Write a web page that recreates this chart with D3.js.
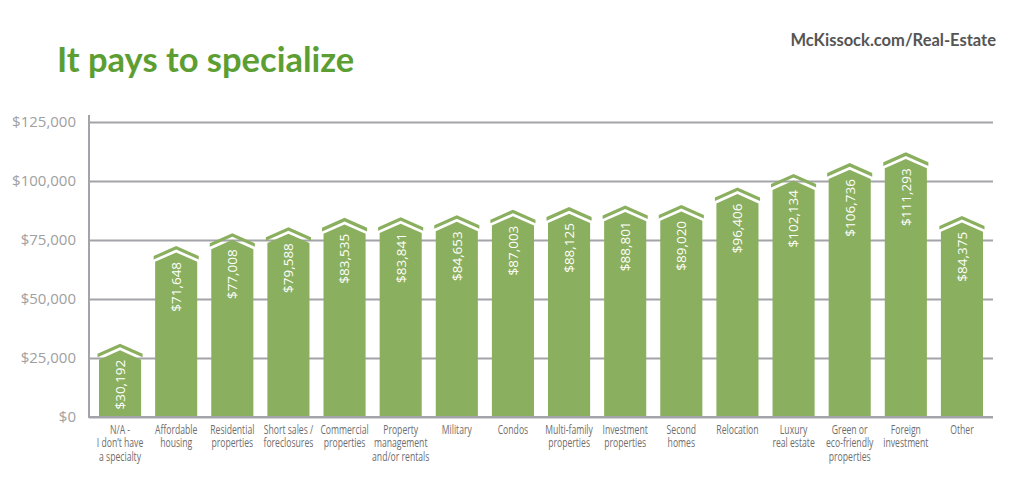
<!DOCTYPE html>
<html>
<head>
<meta charset="utf-8">
<script src="https://cdn.jsdelivr.net/npm/d3@7"></script>
<style>
  body { margin: 0; background: #fff; }
  svg { display: block; }
</style>
</head>
<body>
<div class="chart"></div>
<script>
// data
let categories = ["N/A -\nI don\u2019t have\na specialty", "Affordable\nhousing", "Residential\nproperties",
  "Short sales /\nforeclosures", "Commercial\nproperties", "Property\nmanagement\nand/or rentals",
  "Military", "Condos", "Multi-family\nproperties", "Investment\nproperties", "Second\nhomes",
  "Relocation", "Luxury\nreal estate", "Green or\neco-friendly\nproperties", "Foreign\ninvestment", "Other"]
let salaries = [30192, 71648, 77008, 79588, 83535, 83841, 84653, 87003, 88125, 88801, 89020,
  96406, 102134, 106736, 111293, 84375]
let yTicks = [0, 25000, 50000, 75000, 100000, 125000]

let w = 1024, h = 493
let plotLeft = 89, plotRight = 993, base = 417, plotTop = 122
let green = '#8aaf5e'

let svg = d3.select('.chart').append('svg').attr('width', w).attr('height', h)

svg.append('text').text('It pays to specialize')
  .attr('x', 57).attr('y', 72)
  .attr('font-family', 'Lato, sans-serif').attr('font-weight', 'bold').attr('font-size', 34.5)
  .attr('fill', '#5d9e33')

svg.append('text').text('McKissock.com/Real-Estate')
  .attr('x', 996).attr('y', 46).attr('text-anchor', 'end')
  .attr('font-family', 'Lato, sans-serif').attr('font-weight', 'bold').attr('font-size', 16.5)
  .attr('fill', '#555')

let yScale = d3.scaleLinear().domain([0, 125000]).range([base, plotTop])
let xScale = d3.scaleBand().domain(d3.range(categories.length)).range([99, 983]).paddingInner(0.25).paddingOuter(0)

let money = d3.format(',')
let yAxis = d3.axisLeft(yScale).tickValues(yTicks).tickSize(-(plotRight - plotLeft)).tickPadding(13)
  .tickFormat(d => '$' + money(d))

let gy = svg.append('g').attr('transform', 'translate(' + plotLeft + ',0)').call(yAxis)
gy.select('.domain').remove()
gy.selectAll('.tick line').attr('stroke', '#a3a3aa').attr('stroke-width', 2)
gy.selectAll('.tick text').attr('fill', '#a0a0a0').attr('font-size', 15)
  .attr('font-family', '"Open Sans", sans-serif')

svg.append('line').attr('x1', plotLeft).attr('x2', plotLeft).attr('y1', plotTop - 7).attr('y2', base + 1)
  .attr('stroke', '#a3a3aa').attr('stroke-width', 2)

// house shaped bars: body with a pointed top and a separate roof stripe above it
let bw = xScale.bandwidth()
let drop = 10, thick = 3.6, gap = 3, over = 1.5

let bars = svg.selectAll('g.bar').data(salaries).enter().append('g').attr('class', 'bar')

bars.append('path').attr('fill', green).attr('d', (d, i) => {
  let x0 = xScale(i), x1 = x0 + bw, cx = x0 + bw / 2
  let p = yScale(d) - 2
  let half = bw / 2 + over
  let peak = p + thick + gap
  let side = peak + drop * (bw / 2) / half
  return 'M' + x0 + ',' + base + 'L' + x0 + ',' + side + 'L' + cx + ',' + peak +
    'L' + x1 + ',' + side + 'L' + x1 + ',' + base + 'Z'
})

bars.append('path').attr('fill', green).attr('d', (d, i) => {
  let cx = xScale(i) + bw / 2
  let p = yScale(d) - 2
  let half = bw / 2 + over
  return 'M' + (cx - half) + ',' + (p + drop) + 'L' + cx + ',' + p + 'L' + (cx + half) + ',' + (p + drop) +
    'L' + (cx + half) + ',' + (p + drop + thick) + 'L' + cx + ',' + (p + thick) +
    'L' + (cx - half) + ',' + (p + drop + thick) + 'Z'
})

bars.append('text').text(d => '$' + money(d))
  .attr('transform', (d, i) => 'translate(' + (xScale(i) + bw / 2) + ',' + (yScale(d) + 14) + ') rotate(-90)')
  .attr('text-anchor', 'end').attr('dy', '0.36em')
  .attr('fill', '#fff').attr('font-size', 13.5).attr('font-family', '"Open Sans", sans-serif')

// bottom line
svg.append('line').attr('x1', plotLeft).attr('x2', plotRight).attr('y1', base).attr('y2', base)
  .attr('stroke', '#a3a3aa').attr('stroke-width', 2)

// category labels, squeezed sideways to look like the condensed face of the original
svg.selectAll('text.cat').data(categories).enter().append('text').attr('class', 'cat')
  .attr('transform', (d, i) => 'translate(' + (xScale(i) + bw / 2) + ',0) scale(0.72,1)')
  .attr('text-anchor', 'middle').attr('fill', '#6e6e6e').attr('font-size', 12)
  .attr('font-family', '"Open Sans", sans-serif')
  .each(function (d) {
    let t = d3.select(this)
    d.split('\n').forEach((line, k) => {
      t.append('tspan').attr('x', 0).attr('y', 434 + k * 13.5).text(line)
    })
  })
</script>
</body>
</html>
